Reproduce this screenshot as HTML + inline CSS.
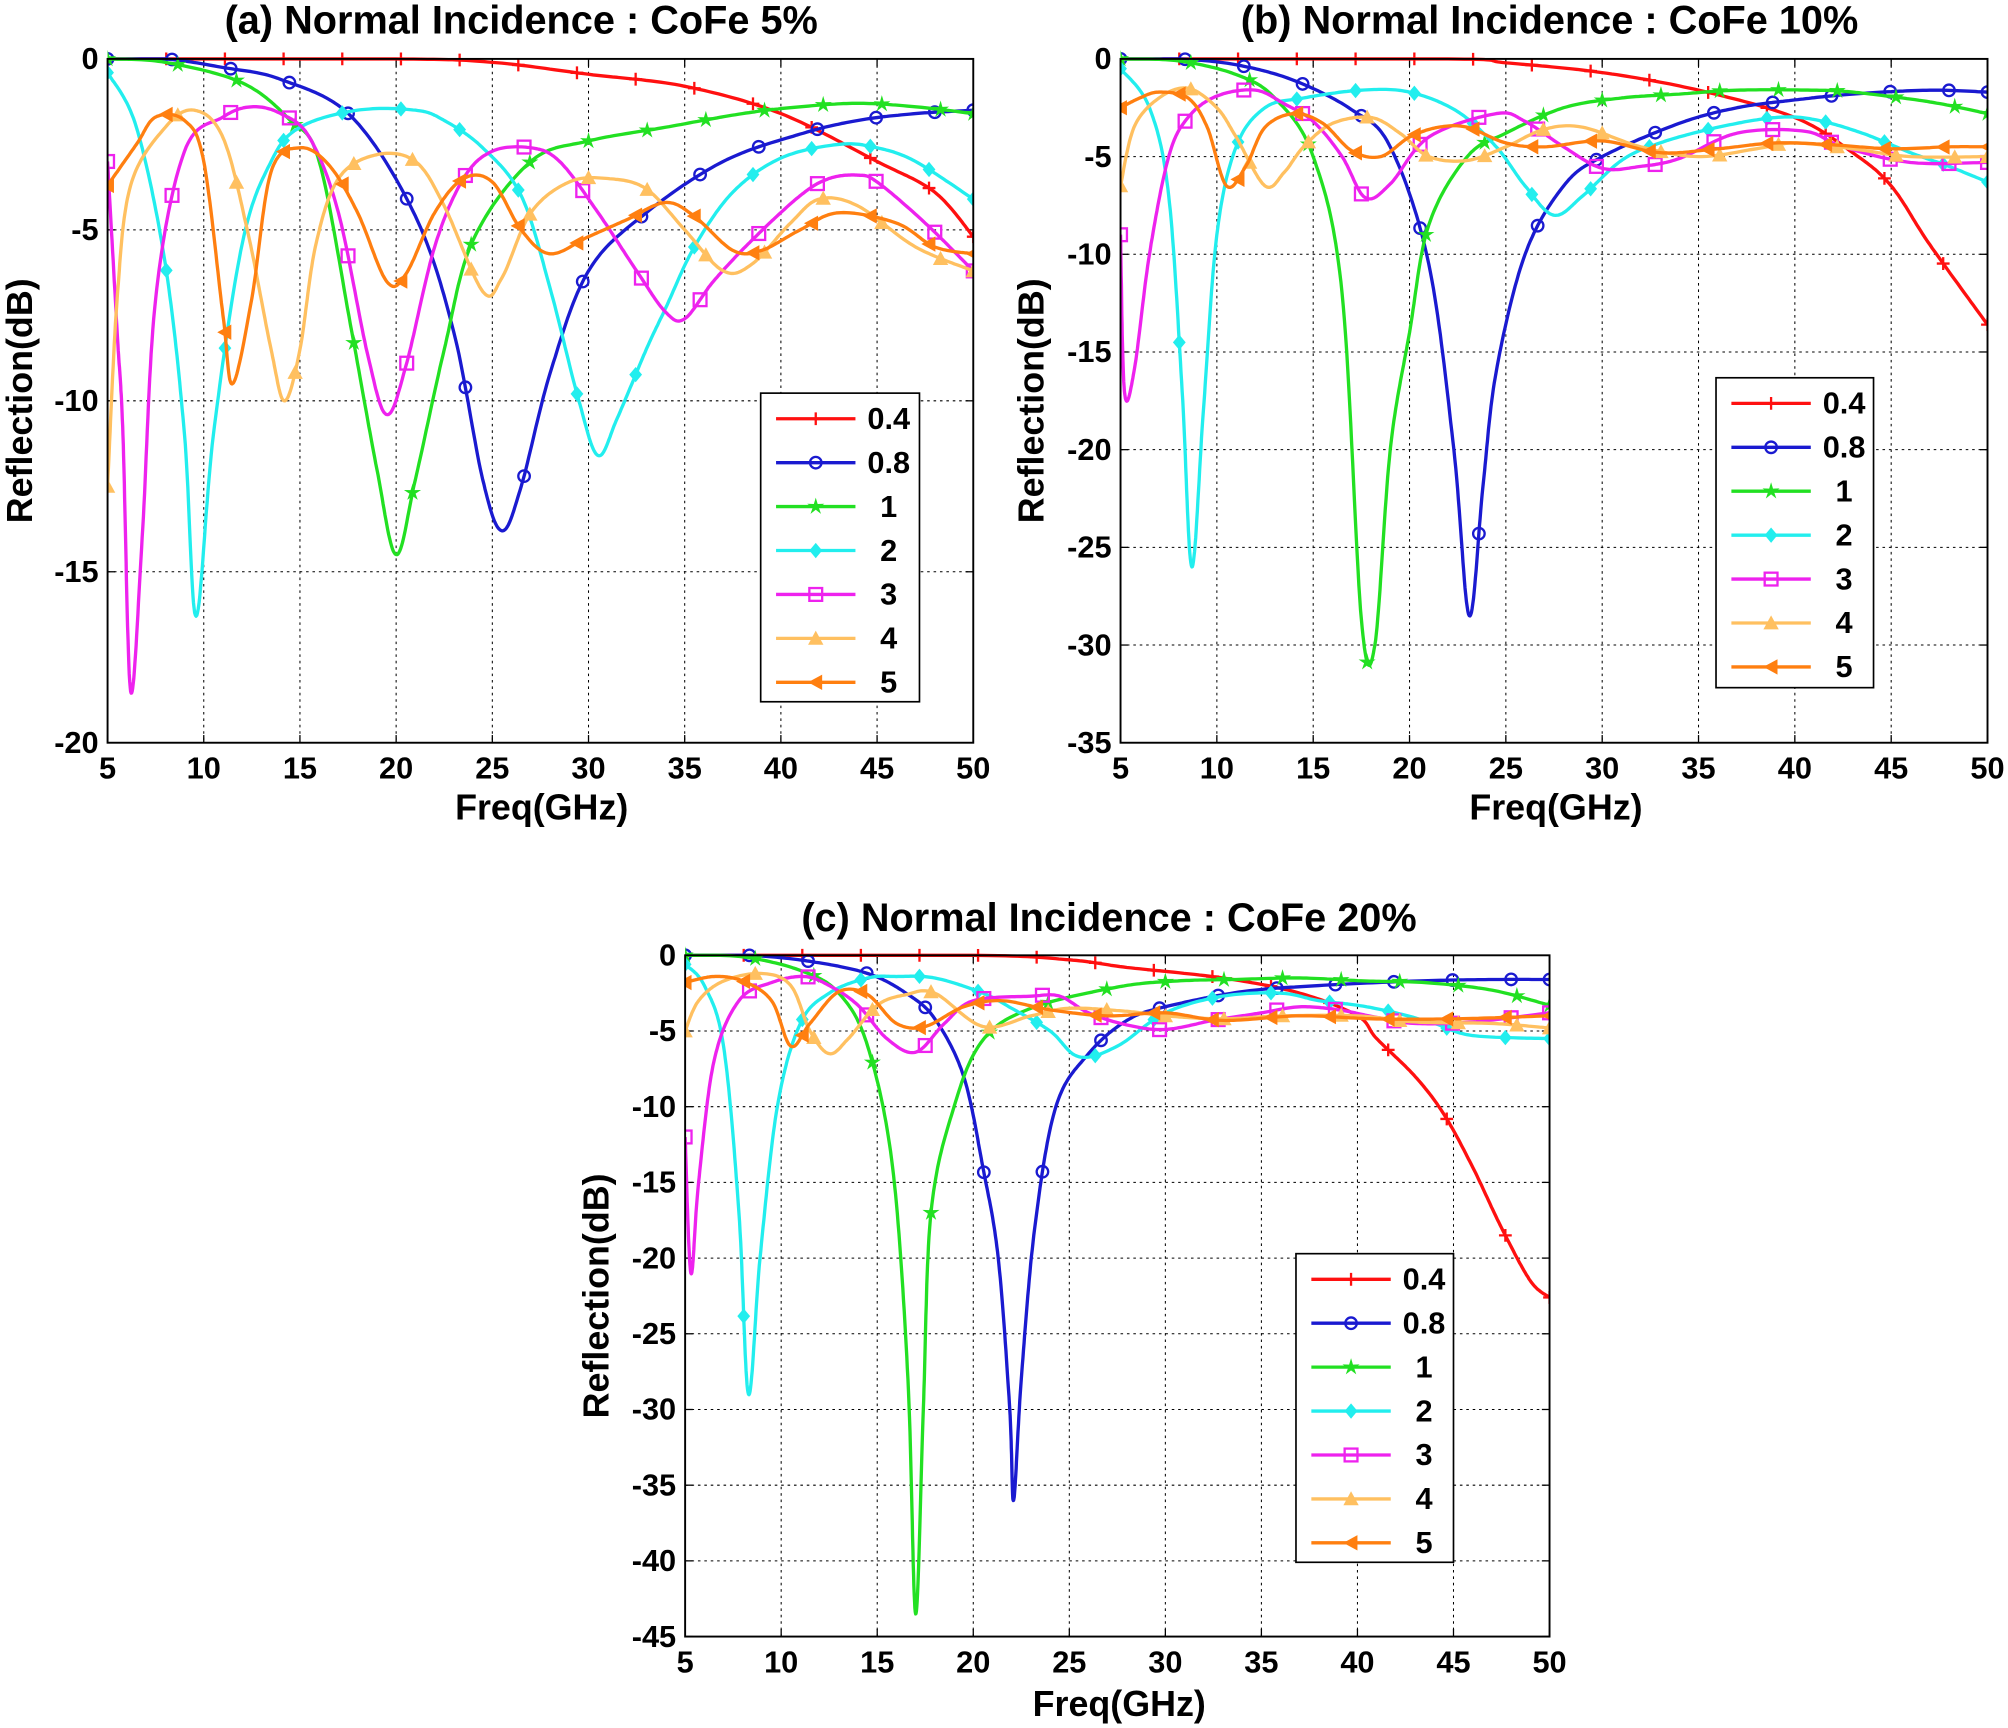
<!DOCTYPE html>
<html><head><meta charset="utf-8">
<style>
html,body{margin:0;padding:0;background:#fff;}
svg{display:block;}
text{font-family:"Liberation Sans",Arial,sans-serif;font-weight:bold;fill:#000;}
</style></head>
<body>
<svg id="s" xmlns="http://www.w3.org/2000/svg" width="2008" height="1728" viewBox="0 0 1568 1349.4" preserveAspectRatio="none">
<rect width="1568" height="1350" fill="#fff"/>
<g id="g"></g>
<text x="407" y="26" font-size="31" text-anchor="middle">(a) Normal Incidence : CoFe 5%</text>
<text x="1210" y="26" font-size="31" text-anchor="middle">(b) Normal Incidence : CoFe 10%</text>
<text x="866" y="727" font-size="31" text-anchor="middle">(c) Normal Incidence : CoFe 20%</text>
<text x="423" y="640" font-size="28" text-anchor="middle">Freq(GHz)</text>
<text x="1215" y="640" font-size="28" text-anchor="middle">Freq(GHz)</text>
<text x="874" y="1340" font-size="28" text-anchor="middle">Freq(GHz)</text>
<text transform="translate(25,313) rotate(-90)" font-size="28" text-anchor="middle">Reflection(dB)</text>
<text transform="translate(815,313) rotate(-90)" font-size="28" text-anchor="middle">Reflection(dB)</text>
<text transform="translate(475,1012) rotate(-90)" font-size="28" text-anchor="middle">Reflection(dB)</text>
<g id="t"></g>
</svg>
<script>
var NS="http://www.w3.org/2000/svg";
var G=document.getElementById('g'), T=document.getElementById('t');
function el(n,a,p){var e=document.createElementNS(NS,n);for(var k in a)e.setAttribute(k,a[k]);(p||G).appendChild(e);return e;}
var COL=['#ff1010','#1a1ad0','#22e022','#22eeee','#ee22ee','#ffc060','#ff7f10'];
var LAB=['0.4','0.8','1','2','3','4','5'];
var plots=[
{x0:84,x1:760,y0:46,y1:580,ymin:-20,leg:[594,307,718,548],d:[
[5,0,20,0,25,-0.1,30,-0.45,35,-0.8,40,-1.6,45,-3,48,-3.9,50,-5.2],
[5,0,8,0,11,-0.25,14,-0.6,17.7,-1.7,21,-4.6,23,-8,24.5,-12.3,25.5,-13.8,26.5,-12.5,28,-9.2,30,-6.2,33,-4.5,37,-3,41,-2.2,44,-1.8,47,-1.6,50,-1.5],
[5,0,8,-0.1,12,-0.7,14.5,-1.8,16,-3,17.7,-8,19,-12,20,-14.5,21,-12.3,22.5,-8.5,24,-5.3,27,-3,30,-2.4,34,-2,38,-1.6,41,-1.4,44,-1.3,47,-1.4,50,-1.6],
[5,-0.4,6.5,-2,8,-6,9,-11,9.6,-16.3,10.5,-11,12,-5.4,13.5,-3,15,-2,18,-1.5,21,-1.5,22.5,-1.8,24.5,-2.6,26.5,-4,28,-6.7,29.5,-10,30.5,-11.6,31.5,-10.5,33,-8.5,34,-7.3,35.5,-5.5,37.5,-3.9,40,-2.9,43,-2.5,45,-2.6,47,-3,50,-4.1],
[5,-3,5.5,-8,5.8,-11,6.2,-18.5,6.8,-14,7.5,-7,9,-2.7,11,-1.7,12.5,-1.4,14,-1.6,15.5,-2.3,17,-4.5,18.5,-8.6,19.5,-10.4,20.5,-9,22,-5.5,23.5,-3.5,25,-2.7,27,-2.6,28.5,-3,30.5,-4.5,32.5,-6.2,34,-7.4,35,-7.6,36.5,-6.5,38.5,-5.3,41,-4,42.5,-3.5,44,-3.4,45,-3.6,47.5,-4.8,50,-6.2],
[5,-12.5,5.5,-7,6.2,-3.7,8,-2,9.5,-1.5,11,-2.3,12.3,-5.1,13.5,-8.5,14.2,-10,15,-8.5,15.8,-5.5,17,-3.5,19,-2.8,21,-3,22.5,-4.3,24.5,-6.8,25.5,-6.4,27,-4.5,29,-3.6,31,-3.5,33,-3.8,35,-5,37,-6.2,38.5,-6,40.5,-4.8,42,-4.1,44,-4.3,47,-5.5,50,-6.2],
[5,-3.7,6.5,-2.5,7.5,-1.7,9,-1.8,10,-3,11,-7.5,11.5,-9.5,12.5,-7,13.5,-3.3,15,-2.6,16.5,-3.1,18,-4.5,19.5,-6.5,20.5,-6.3,22,-4.5,23.5,-3.5,25,-3.6,26.5,-5,28,-5.7,30,-5.2,32,-4.7,34,-4.2,35.5,-4.6,37.5,-5.6,39,-5.6,41,-5,43,-4.5,46,-4.8,48,-5.5,50,-5.7]]},
{x0:875,x1:1552,y0:46,y1:580,ymin:-35,leg:[1340,295,1463,537],d:[
[5,0,22,0,25,-0.2,30,-0.7,35,-1.6,40,-3,43,-4.8,45,-6.5,47,-9.5,50,-13.6],
[5,0,8,0,11,-0.3,14,-1.1,17,-2.6,19,-4.5,21,-10.5,22.3,-20,23.1,-28.5,23.8,-22,24.5,-16,26,-10,28,-6.5,30,-5,34,-3.3,37,-2.5,40,-2.1,43,-1.8,47,-1.6,50,-1.7],
[5,0,8,-0.1,11,-0.8,13,-2,15,-5,16.5,-12,17.5,-28.7,18.2,-30,19,-20,20,-14,21,-8.5,23,-5,25,-3.8,28,-2.5,31,-2,34,-1.8,37,-1.6,41,-1.6,43,-1.7,47,-2.2,50,-2.8],
[5,-0.5,6.5,-2.5,7.5,-7,8.2,-17,8.7,-26,9.3,-18,10,-9,11,-4.5,12.5,-2.5,14.5,-2,17.5,-1.6,20,-1.7,22.5,-2.7,24.5,-4.5,26,-6.5,27.5,-8,29,-7,31,-5.2,33,-4.3,36,-3.5,39,-3,41,-3.1,43.5,-3.8,46,-4.8,48,-5.5,50,-6.3],
[5,-9,5.2,-17,5.7,-16,6.5,-10,7.5,-5,8.5,-3,10,-1.9,12,-1.6,13.5,-2.3,15,-3.2,16.5,-5,17.7,-7.1,19,-6.4,21,-4,24.5,-2.8,26,-3.2,28,-4.5,30,-5.6,32,-5.5,34,-5.1,37,-3.8,40.5,-3.7,42.5,-4.5,46,-5.3,50,-5.3],
[5,-6.5,5.7,-3.5,7,-2,8.5,-1.5,10,-2.5,11,-4,12.5,-6.5,13.5,-5.8,14.5,-4.5,16,-3.3,18,-3,19.5,-3.8,21,-5,23,-5.2,25,-4.5,27,-3.6,29,-3.5,32,-4.5,35,-5,38,-4.6,40,-4.3,43,-4.6,46,-5,50,-5],
[5,-2.5,6,-2,7,-1.7,8.5,-2,9.5,-3.5,10.5,-6.5,11.5,-5.5,12.5,-3.5,14,-2.8,15.5,-3.3,17,-4.7,18.5,-5,20,-4,21.5,-3.5,23,-3.5,25,-4.3,27,-4.5,30,-4.2,33,-4.8,36,-4.6,39,-4.3,42,-4.4,45,-4.6,48,-4.5,50,-4.5]]},
{x0:535,x1:1210,y0:746,y1:1278,ymin:-45,leg:[1012,979,1135,1220],d:[
[5,0,20,0,25,-0.3,28,-0.8,33,-1.5,37,-2.5,40,-4,41,-5.5,43,-8,44.5,-10.5,46,-14,47.5,-18,49,-21.5,50,-22.6],
[5,0,8.3,0,11.5,-0.4,14.5,-1.2,16.5,-2.5,18,-4.2,19.5,-8,20.5,-14,21.3,-20,21.9,-30,22.1,-36,22.5,-28,23.2,-18,24.3,-10,26,-6.5,28,-4.3,30,-3.4,34,-2.4,38,-2,43,-1.7,47,-1.6,50,-1.6],
[5,0,8,-0.1,11,-1,13,-2.5,14.5,-6,15.8,-14,16.6,-28,17,-43.5,17.4,-30,17.8,-17,19,-10,20.5,-5.6,23,-3.5,27.5,-2.1,30.5,-1.7,33.5,-1.6,37,-1.5,40.5,-1.7,43.5,-1.8,47,-2.3,50,-3.3],
[5,-0.6,6,-2,7,-6,7.8,-17,8.3,-29,8.9,-20,9.8,-10,11,-4.5,12.5,-2.5,14.5,-1.5,16,-1.4,18,-1.5,20.5,-2.5,22,-3.5,24,-5,25.5,-6.7,27.5,-6,30,-3.8,33,-2.7,36,-2.5,38,-3,40,-3.3,42,-3.8,44,-4.5,46,-5.3,50,-5.5],
[5,-12,5.3,-21,5.7,-15,6.5,-7,7.8,-3,9.5,-1.8,11.2,-1.4,12.5,-2,14,-3.3,15.5,-5.5,17,-6.4,18.5,-4.5,20,-3,23,-2.7,24.5,-2.7,26,-3.8,28,-4.6,30,-4.9,32.5,-4.3,35,-3.8,37,-3.4,39,-3.6,41,-4.1,43,-4.5,46,-4.4,50,-3.8],
[5,-5,5.7,-3,7,-1.7,9,-1.2,10.5,-2,11.5,-5,12.5,-6.5,13.5,-5.5,15,-3.3,16.5,-2.6,18,-2.5,20.5,-4.7,23,-4,25,-3.5,28,-3.7,30,-4,33,-4.2,36,-4,40,-4,43,-4.4,47,-4.5,50,-4.8],
[5,-1.8,6.5,-1.4,8,-1.7,9.5,-3,10.5,-6,11.5,-4.5,13,-2.4,14.5,-2.6,16,-4.5,17.5,-4.7,19.5,-3.4,21.5,-3,24,-3.6,27,-4,30,-3.8,33,-4.3,37,-4,41,-4.2,45,-4.2,50,-4]]}
];
function marker(k,x,y,c,p){
  var s=5;
  if(k==0){el('path',{d:'M'+(x-s)+','+y+'h'+2*s+'M'+x+','+(y-s)+'v'+2*s,stroke:c,'stroke-width':1.8,fill:'none'},p);}
  else if(k==1){el('circle',{cx:x,cy:y,r:4.5,stroke:c,'stroke-width':1.8,fill:'none'},p);}
  else if(k==2){var d='';for(var i=0;i<10;i++){var a=-Math.PI/2+i*Math.PI/5,r=i%2?2.5:7;d+=(i?'L':'M')+(x+r*Math.cos(a)).toFixed(1)+','+(y+r*Math.sin(a)).toFixed(1);}el('path',{d:d+'Z',fill:c},p);}
  else if(k==3){el('path',{d:'M'+x+','+(y-6)+'L'+(x+5)+','+y+'L'+x+','+(y+6)+'L'+(x-5)+','+y+'Z',fill:c},p);}
  else if(k==4){el('rect',{x:x-5,y:y-5,width:10,height:10,stroke:c,'stroke-width':1.8,fill:'none'},p);}
  else if(k==5){el('path',{d:'M'+x+','+(y-6)+'L'+(x+6)+','+(y+5)+'L'+(x-6)+','+(y+5)+'Z',fill:c},p);}
  else {el('path',{d:'M'+(x-6)+','+y+'L'+(x+5)+','+(y-6)+'L'+(x+5)+','+(y+6)+'Z',fill:c},p);}
}
plots.forEach(function(P){
  var W=P.x1-P.x0,H=P.y1-P.y0;
  function X(f){return P.x0+(f-5)/45*W;}
  function Y(v){return P.y0+(-v)/(-P.ymin)*H;}
  for(var f=10;f<50;f+=5)el('line',{x1:X(f),x2:X(f),y1:P.y0,y2:P.y1,stroke:'#000','stroke-width':0.8,'stroke-dasharray':'2,3'});
  for(var v=-5;v>P.ymin;v-=5)el('line',{x1:P.x0,x2:P.x1,y1:Y(v),y2:Y(v),stroke:'#000','stroke-width':0.8,'stroke-dasharray':'2,3'});
  for(var f=5;f<=50;f+=5){var t=el('text',{x:X(f),y:P.y1+28,'font-size':24,'text-anchor':'middle'},T);t.textContent=f;
    el('line',{x1:X(f),x2:X(f),y1:P.y1,y2:P.y1-6,stroke:'#000'});el('line',{x1:X(f),x2:X(f),y1:P.y0,y2:P.y0+6,stroke:'#000'});}
  for(var v=0;v>=P.ymin;v-=5){var t=el('text',{x:P.x0-7,y:Y(v)+8,'font-size':24,'text-anchor':'end'},T);t.textContent=v;
    el('line',{x1:P.x0,x2:P.x0+6,y1:Y(v),y2:Y(v),stroke:'#000'});el('line',{x1:P.x1,x2:P.x1-6,y1:Y(v),y2:Y(v),stroke:'#000'});}
  var clip=el('clipPath',{id:'c'+P.x0});el('rect',{x:P.x0,y:P.y0-8,width:W,height:H+8},clip);
  var gs=el('g',{'clip-path':'url(#c'+P.x0+')'});
  P.d.forEach(function(a,k){
    var pts=[];for(var i=0;i<a.length;i+=2)pts.push([a[i],a[i+1]]);
    var S=[];
    for(var i=0;i<pts.length-1;i++){
      var p0=pts[Math.max(0,i-1)],p1=pts[i],p2=pts[i+1],p3=pts[Math.min(pts.length-1,i+2)];
      for(var j=0;j<20;j++){var t=j/20,t2=t*t,t3=t2*t;
        var fx=0.5*((2*p1[0])+(-p0[0]+p2[0])*t+(2*p0[0]-5*p1[0]+4*p2[0]-p3[0])*t2+(-p0[0]+3*p1[0]-3*p2[0]+p3[0])*t3);
        var fy=0.5*((2*p1[1])+(-p0[1]+p2[1])*t+(2*p0[1]-5*p1[1]+4*p2[1]-p3[1])*t2+(-p0[1]+3*p1[1]-3*p2[1]+p3[1])*t3);
        if(fy>0)fy=0;S.push([fx,fy]);}
    }
    S.push(pts[pts.length-1]);
    var d='';S.forEach(function(q,i){d+=(i?'L':'M')+X(q[0]).toFixed(1)+','+Y(q[1]).toFixed(1);});
    el('path',{d:d,stroke:COL[k],'stroke-width':2.6,fill:'none','stroke-linejoin':'round'},gs);
    function at(f){for(var i=0;i<S.length-1;i++){if(S[i+1][0]>=f){var u=(f-S[i][0])/((S[i+1][0]-S[i][0])||1);return S[i][1]+u*(S[i+1][1]-S[i][1]);}}return S[S.length-1][1];}
    for(var m=0;m<=15;m++){var f=5+m*3.05+ (k%3)*0.3*(m>0&&m<15?1:0);if(f>50)f=50;if(m==15)f=50;marker(k,X(f),Y(at(f)),COL[k],gs);}
  });
  el('rect',{x:P.x0,y:P.y0,width:W,height:H,fill:'none',stroke:'#000','stroke-width':1.5});
  var L=P.leg;el('rect',{x:L[0],y:L[1],width:L[2]-L[0],height:L[3]-L[1],fill:'#fff',stroke:'#000','stroke-width':1.3});
  for(var k=0;k<7;k++){var yy=L[1]+20+k*34.3;
    el('line',{x1:L[0]+12,x2:L[0]+74,y1:yy,y2:yy,stroke:COL[k],'stroke-width':2.6});
    marker(k,L[0]+43,yy,COL[k]);
    var t=el('text',{x:L[0]+100,y:yy+8,'font-size':24,'text-anchor':'middle'},T);t.textContent=LAB[k];}
});
</script>
</body></html>
